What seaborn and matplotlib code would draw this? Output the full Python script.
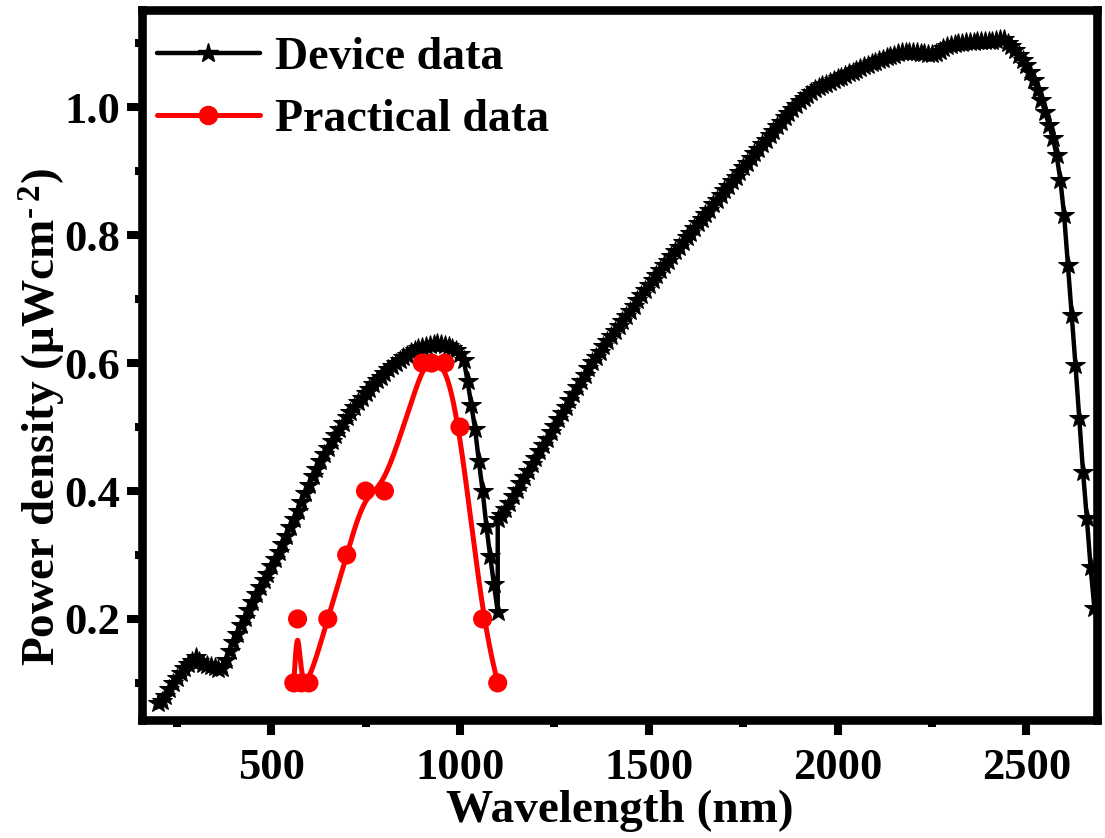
import numpy as np
import pandas as pd
import matplotlib
matplotlib.use("Agg")
import matplotlib.pyplot as plt
from matplotlib.lines import Line2D
from matplotlib.ticker import MultipleLocator, FormatStrFormatter
import seaborn as sns

# Device spectrum, 10 nm grid: first detector 200-1100 nm, second detector 1100-2680 nm
wl_vis = np.arange(200, 1101, 10)
pd_vis = [
    0.068, 0.072, 0.080, 0.090, 0.100, 0.108, 0.116, 0.123, 0.129, 0.134,
    0.140, 0.134, 0.130, 0.128, 0.127, 0.125, 0.122, 0.124, 0.136, 0.150,
    0.164, 0.177, 0.190, 0.202, 0.214, 0.227, 0.239, 0.250, 0.261, 0.271,
    0.282, 0.293, 0.305, 0.317, 0.330, 0.343, 0.356, 0.369, 0.383, 0.397,
    0.410, 0.423, 0.435, 0.447, 0.458, 0.468, 0.478, 0.488, 0.497, 0.506,
    0.515, 0.523, 0.531, 0.539, 0.546, 0.553, 0.560, 0.567, 0.573, 0.579,
    0.585, 0.590, 0.595, 0.600, 0.605, 0.609, 0.613, 0.617, 0.620, 0.623,
    0.625, 0.627, 0.629, 0.630, 0.631, 0.630, 0.629, 0.627, 0.624, 0.620,
    0.614, 0.605, 0.572, 0.535, 0.497, 0.447, 0.400, 0.345, 0.298, 0.255,
    0.211,
]
wl_nir = np.arange(1100, 2681, 10)
pd_nir = [
    0.356, 0.362, 0.372, 0.382, 0.392, 0.402, 0.412, 0.422, 0.432, 0.442,
    0.452, 0.462, 0.472, 0.482, 0.492, 0.502, 0.512, 0.522, 0.532, 0.542,
    0.552, 0.562, 0.572, 0.582, 0.592, 0.601, 0.610, 0.618, 0.626, 0.634,
    0.642, 0.650, 0.658, 0.666, 0.674, 0.682, 0.690, 0.698, 0.706, 0.714,
    0.722, 0.730, 0.738, 0.746, 0.753, 0.760, 0.767, 0.775, 0.782, 0.789,
    0.797, 0.804, 0.811, 0.819, 0.826, 0.833, 0.840, 0.848, 0.855, 0.862,
    0.870, 0.877, 0.884, 0.891, 0.899, 0.906, 0.913, 0.920, 0.928, 0.935,
    0.942, 0.949, 0.956, 0.963, 0.970, 0.977, 0.984, 0.991, 0.997, 1.003,
    1.009, 1.014, 1.019, 1.024, 1.028, 1.031, 1.034, 1.037, 1.040, 1.043,
    1.045, 1.048, 1.050, 1.053, 1.055, 1.058, 1.061, 1.064, 1.066, 1.069,
    1.071, 1.074, 1.076, 1.078, 1.080, 1.082, 1.084, 1.086, 1.087, 1.087,
    1.087, 1.086, 1.085, 1.084, 1.083, 1.083, 1.085, 1.088, 1.092, 1.095,
    1.097, 1.099, 1.100, 1.101, 1.102, 1.102, 1.102, 1.103, 1.103, 1.103,
    1.104, 1.104, 1.105, 1.106, 1.106, 1.101, 1.095, 1.089, 1.082, 1.074,
    1.066, 1.055, 1.042, 1.027, 1.011, 0.992, 0.972, 0.952, 0.925, 0.886,
    0.831, 0.753, 0.675, 0.597, 0.514, 0.430, 0.358, 0.281, 0.217,
]

# Measured (practical) points
prac_wl = [560, 570, 580, 600, 650, 700, 750, 800, 900, 925, 960, 1000, 1060, 1100]
prac_pd = [0.1, 0.2, 0.1, 0.1, 0.2, 0.3, 0.4, 0.4, 0.6, 0.6, 0.6, 0.5, 0.2, 0.1]

x_ticks = [500, 1000, 1500, 2000, 2500]
y_ticks = [0.2, 0.4, 0.6, 0.8, 1.0]
legend_labels = ["Device data", "Practical data"]


def bspline_path(x, y, n=30):
    """Clamped uniform cubic B-spline using the points as control points."""
    px = np.r_[x[0], x[0], x, x[-1], x[-1]].astype(float)
    py = np.r_[y[0], y[0], y, y[-1], y[-1]].astype(float)
    t = np.linspace(0, 1, n, endpoint=False)
    b0 = (1 - t) ** 3 / 6
    b1 = (3 * t ** 3 - 6 * t ** 2 + 4) / 6
    b2 = (-3 * t ** 3 + 3 * t ** 2 + 3 * t + 1) / 6
    b3 = t ** 3 / 6
    xs, ys = [], []
    for i in range(len(px) - 3):
        xs.append(b0 * px[i] + b1 * px[i + 1] + b2 * px[i + 2] + b3 * px[i + 3])
        ys.append(b0 * py[i] + b1 * py[i + 1] + b2 * py[i + 2] + b3 * py[i + 3])
    xs.append([px[-1]])
    ys.append([py[-1]])
    return np.concatenate(xs), np.concatenate(ys)


sns.set_style("ticks")
plt.rcParams["font.family"] = ["Liberation Serif", "DejaVu Serif"]
plt.rcParams["font.weight"] = "bold"
plt.rcParams["axes.labelweight"] = "bold"
plt.rcParams["text.color"] = "black"
plt.rcParams["axes.labelcolor"] = "black"
plt.rcParams["xtick.color"] = "black"
plt.rcParams["ytick.color"] = "black"
plt.rcParams["mathtext.fontset"] = "custom"
plt.rcParams["mathtext.rm"] = "Liberation Serif:bold"
plt.rcParams["mathtext.it"] = "Liberation Serif:bold:italic"
plt.rcParams["mathtext.bf"] = "Liberation Serif:bold"

device = pd.DataFrame({
    "wl": np.r_[wl_vis, wl_nir],
    "pd": np.r_[pd_vis, pd_nir],
})
prac = pd.DataFrame({"wl": prac_wl, "pd": prac_pd})
sx, sy = bspline_path(np.array(prac_wl), np.array(prac_pd))
prac_curve = pd.DataFrame({"wl": sx, "pd": sy})

fig = plt.figure(figsize=(11.05, 8.38), dpi=100)
ax = fig.add_axes([142 / 1105, 1 - 720 / 838, 955 / 1105, 710 / 838])

sns.lineplot(data=device, x="wl", y="pd", ax=ax, sort=False, estimator=None,
             color="black", lw=3.2, marker="*", markersize=15,
             markeredgecolor="black", markerfacecolor="black", zorder=3)
sns.lineplot(data=prac_curve, x="wl", y="pd", ax=ax, sort=False, estimator=None,
             color="#ff0000", lw=3.6, zorder=4)
sns.scatterplot(data=prac, x="wl", y="pd", ax=ax, color="#ff0000", s=190,
                edgecolor="none", linewidth=0, zorder=5)

ax.set_xlim(158, 2687)
ax.set_ylim(0.042, 1.152)
ax.set_xticks(x_ticks)
ax.set_yticks(y_ticks)
ax.xaxis.set_minor_locator(MultipleLocator(250))
ax.yaxis.set_minor_locator(MultipleLocator(0.1))
ax.yaxis.set_major_formatter(FormatStrFormatter("%.1f"))

for s in ax.spines.values():
    s.set_linewidth(6.2)
    s.set_color("black")
    s.set_capstyle("projecting")

ax.tick_params(which="major", direction="out", length=11, width=5.8,
               labelsize=32, color="black", labelcolor="black")
ax.tick_params(axis="x", which="major", pad=9)
ax.tick_params(axis="y", which="major", pad=5)
ax.tick_params(which="minor", direction="out", length=5, width=5.8, color="black")
for lab in ax.get_xticklabels() + ax.get_yticklabels():
    lab.set_fontweight("bold")

ax.set_xlabel("Wavelength (nm)", fontsize=34, fontweight="bold", labelpad=1)
ax.set_ylabel("Power density (μWcm$^{\u2010\u20092}$)", fontsize=34, fontweight="bold")
ax.yaxis.set_label_coords(-0.078, 0.427)

handles = [
    Line2D([], [], color="black", lw=3.2, marker="*", markersize=15),
    Line2D([], [], color="#ff0000", lw=3.6, marker="o", markersize=13),
]
ax.legend(handles, legend_labels, loc="upper left", frameon=False,
          bbox_to_anchor=(0.006, 0.975), borderaxespad=0,
          handlelength=2.25, handletextpad=0.33, labelspacing=0.43,
          borderpad=0.2,
          prop={"family": "Liberation Serif", "weight": "bold", "size": 33})

fig.savefig("out.png", dpi=100)
